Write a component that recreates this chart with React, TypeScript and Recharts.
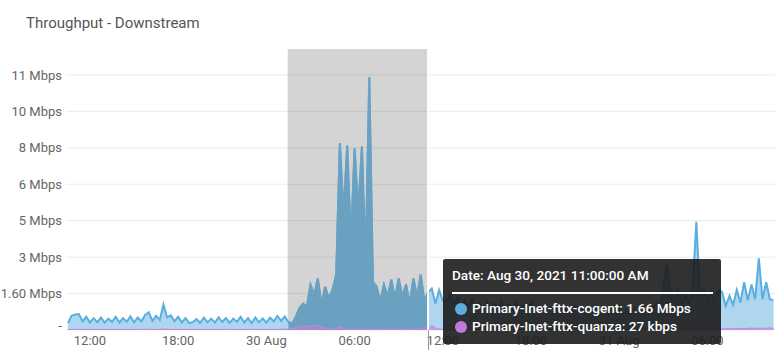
import React from 'react';
import { ComposedChart, Area, XAxis, YAxis, CartesianGrid, ReferenceArea, ReferenceLine } from 'recharts';

// 15 minute samples, hours counted from Aug 29 00:00
const startHour = 10.5;
const stepHours = 0.25;

// Primary-Inet-fttx-cogent, Mbps
const cogentAug29 = [
  0.30, 0.62, 0.68, 0.70, 0.38, 0.58, 0.33, 0.52, 0.34, 0.55,
  0.32, 0.50, 0.36, 0.58, 0.33, 0.52, 0.36, 0.60, 0.34, 0.55,
  0.38, 0.66, 0.78, 0.40, 0.62, 0.44, 1.12, 0.55, 0.64, 0.38,
  0.58, 0.33, 0.52, 0.30, 0.35, 0.48, 0.31, 0.54, 0.34, 0.50,
  0.32, 0.56, 0.35, 0.52, 0.31, 0.50, 0.36, 0.58, 0.33, 0.52,
  0.30, 0.55, 0.34, 0.51, 0.32, 0.55, 0.38, 0.62, 0.40, 0.60,
];
const cogentSelected = [
  0.35, 0.28, 0.57, 0.95, 1.16, 1.02, 1.99, 1.55, 2.26, 1.10,
  1.90, 1.37, 1.77, 2.43, 8.20, 5.10, 8.10, 3.80, 7.97, 5.20,
  8.06, 2.88, 11.10, 2.10, 1.90, 1.24, 1.99, 1.46, 2.21, 1.37,
  2.26, 1.46, 2.00, 1.15, 2.26, 1.46, 2.43, 1.24, 1.66,
];
const cogentAfter = [
  1.82, 1.15, 1.75, 1.30, 1.25, 1.55, 1.10, 1.40, 0.95, 1.30,
  1.02, 1.35, 0.92, 1.20, 0.98, 1.28, 0.90, 1.18, 0.95, 1.32,
  0.88, 1.15, 0.92, 1.25, 0.85, 1.10, 0.90, 1.22, 0.86, 1.08,
  0.82, 1.15, 0.88, 1.05, 0.80, 1.12, 0.84, 1.00, 0.78, 1.06,
  0.82, 0.98, 0.75, 1.02, 0.80, 0.95, 0.72, 0.90, 0.70, 0.88,
  0.74, 0.92, 0.68, 0.86, 0.72, 0.95, 0.70, 0.85, 0.76, 0.98,
  0.80, 1.20, 0.95, 1.90, 2.90, 1.60, 1.25, 1.75, 1.15, 1.60,
  1.10, 1.85, 4.75, 1.45, 1.80, 1.20, 1.65, 1.25, 1.75, 1.67,
  1.05, 1.50, 1.10, 1.76, 1.20, 2.10, 1.30, 2.00, 1.35, 3.15,
  1.35, 2.10, 1.35, 1.30,
];

// Primary-Inet-fttx-quanza, Mbps
const quanzaAug29 = [
  0.03, 0.02, 0.03, 0.03, 0.02, 0.03, 0.02, 0.03, 0.03, 0.02,
  0.03, 0.02, 0.03, 0.02, 0.03, 0.03, 0.02, 0.03, 0.02, 0.03,
  0.03, 0.02, 0.04, 0.03, 0.02, 0.03, 0.04, 0.03, 0.02, 0.03,
  0.02, 0.03, 0.03, 0.02, 0.03, 0.02, 0.03, 0.02, 0.03, 0.03,
  0.02, 0.03, 0.02, 0.03, 0.03, 0.02, 0.03, 0.02, 0.03, 0.02,
  0.03, 0.03, 0.02, 0.03, 0.02, 0.03, 0.03, 0.02, 0.03, 0.04,
];
const quanzaSelected = [
  0.04, 0.06, 0.10, 0.16, 0.18, 0.15, 0.19, 0.17, 0.20, 0.12,
  0.08, 0.05, 0.04, 0.06, 0.14, 0.07, 0.04, 0.03, 0.04, 0.03,
  0.03, 0.04, 0.03, 0.03, 0.04, 0.03, 0.03, 0.04, 0.03, 0.03,
  0.04, 0.03, 0.03, 0.04, 0.03, 0.04, 0.05, 0.12, 0.027,
];
const quanzaAfter = [
  0.21, 0.08, 0.04, 0.03, 0.03, 0.04, 0.03, 0.03, 0.04, 0.03,
  0.03, 0.04, 0.03, 0.03, 0.04, 0.03, 0.03, 0.04, 0.03, 0.03,
  0.04, 0.03, 0.03, 0.04, 0.03, 0.03, 0.04, 0.03, 0.03, 0.04,
  0.03, 0.03, 0.04, 0.03, 0.03, 0.04, 0.03, 0.03, 0.04, 0.03,
  0.03, 0.04, 0.03, 0.03, 0.04, 0.03, 0.03, 0.04, 0.03, 0.03,
  0.04, 0.03, 0.03, 0.04, 0.03, 0.03, 0.04, 0.03, 0.03, 0.04,
  0.03, 0.04, 0.05, 0.04, 0.05, 0.04, 0.05, 0.04, 0.06, 0.05,
  0.04, 0.05, 0.04, 0.05, 0.06, 0.05, 0.04, 0.05, 0.06, 0.05,
  0.05, 0.06, 0.05, 0.06, 0.07, 0.06, 0.07, 0.08, 0.07, 0.08,
  0.07, 0.08, 0.09, 0.08,
];

const cogent = [...cogentAug29, ...cogentSelected, ...cogentAfter];
const quanza = [...quanzaAug29, ...quanzaSelected, ...quanzaAfter];

// zoom selection (Aug 30 ~01:27 -> 11:00) and hovered sample
const selStart = 25.45;
const selEnd = 35;

const xTicks = [12, 18, 24, 30, 36, 42, 48, 54];
const xTickLabels = ['12:00', '18:00', '30 Aug', '06:00', '12:00', '18:00', '31 Aug', '06:00'];
const yTicks = [0, 1.6, 3.2, 4.8, 6.4, 8, 9.6, 11.2];

const data = cogent.map((v, i) => {
  const hour = startHour + i * stepHours;
  return {
    hour,
    cogent: v,
    quanza: quanza[i],
    sel: hour >= selStart && hour <= selEnd ? v : null,
  };
});

const fmtY = (v: number) => {
  if (v === 0) return '-';
  if (v < 2) return `${v.toFixed(2)} Mbps`;
  return `${Math.round(v)} Mbps`;
};

function YTick({ x, y, payload }: any) {
  const v = payload.value;
  return (
    <text x={x} y={y + (v === 0 ? -5 : 0)} dy="0.355em" textAnchor="end" fill="#666" fontSize={13}>
      {fmtY(v)}
    </text>
  );
}

const font = 'Roboto, "Noto Sans", sans-serif';

export default function App() {
  return (
    <div style={{ position: 'absolute', left: 0, top: 0, width: 784, height: 358, background: '#fff', fontFamily: font }}>
      <div style={{ position: 'absolute', left: 26, top: 14, fontSize: 15, color: '#555', whiteSpace: 'nowrap' }}>
        Throughput - Downstream
      </div>
      <ComposedChart width={784} height={358} data={data} margin={{ top: 49, right: 9, bottom: 0, left: 0 }} style={{ fontFamily: font }}>
        <CartesianGrid vertical={false} stroke="#ebebeb" horizontalValues={yTicks} />
        <XAxis
          dataKey="hour"
          type="number"
          domain={[10.37, 58.6]}
          ticks={xTicks}
          tickFormatter={(v: number) => xTickLabels[xTicks.indexOf(v)]}
          axisLine={false}
          tickLine={false}
          tickSize={0}
          tickMargin={6}
          height={28}
          tick={{ fill: '#666', fontSize: 13 }}
        />
        <YAxis
          type="number"
          domain={[0, 12.34]}
          ticks={yTicks}
          axisLine={false}
          tickLine={false}
          tickSize={0}
          tickMargin={4}
          width={66}
          tick={<YTick />}
        />
        <ReferenceArea x1={selStart} x2={selEnd} fill="#000" fillOpacity={0.17} stroke="none" />
        <Area type="linear" dataKey="cogent" stroke="#5aaee0" strokeWidth={2} fill="#aed6ef" fillOpacity={1} dot={false} activeDot={false} isAnimationActive={false} />
        <Area type="linear" dataKey="sel" stroke="#6aa1c1" strokeWidth={2} fill="#6aa1c1" fillOpacity={1} dot={false} activeDot={false} isAnimationActive={false} />
        <Area type="linear" dataKey="quanza" stroke="#c983e0" strokeWidth={1} fill="#c27ed8" fillOpacity={0.6} dot={false} activeDot={false} isAnimationActive={false} />
        <ReferenceLine x={selEnd} stroke="#ffffff" strokeWidth={2} />
      </ComposedChart>
      <div style={{ position: 'absolute', left: 428, top: 330, width: 1, height: 20, background: '#999' }} />
      <div
        style={{
          position: 'absolute',
          left: 443,
          top: 259,
          width: 278,
          height: 85,
          background: 'rgba(28,28,28,0.9)',
          borderRadius: 2,
          color: '#fff',
          fontSize: 13.6,
          fontWeight: 500,
          whiteSpace: 'nowrap',
        }}
      >
        <div style={{ position: 'absolute', left: 9, top: 9, lineHeight: '15px' }}>Date: Aug 30, 2021 11:00:00 AM</div>
        <div style={{ position: 'absolute', left: 9, top: 33, width: 261, height: 2, background: '#fff' }} />
        <div style={{ position: 'absolute', left: 12, top: 44, width: 12, height: 12, borderRadius: 6, background: '#5dade2' }} />
        <div style={{ position: 'absolute', left: 29, top: 42, lineHeight: '15px' }}>Primary-Inet-fttx-cogent: 1.66 Mbps</div>
        <div style={{ position: 'absolute', left: 12, top: 62, width: 12, height: 12, borderRadius: 6, background: '#c07ad9' }} />
        <div style={{ position: 'absolute', left: 29, top: 60, lineHeight: '15px' }}>Primary-Inet-fttx-quanza: 27 kbps</div>
      </div>
    </div>
  );
}
